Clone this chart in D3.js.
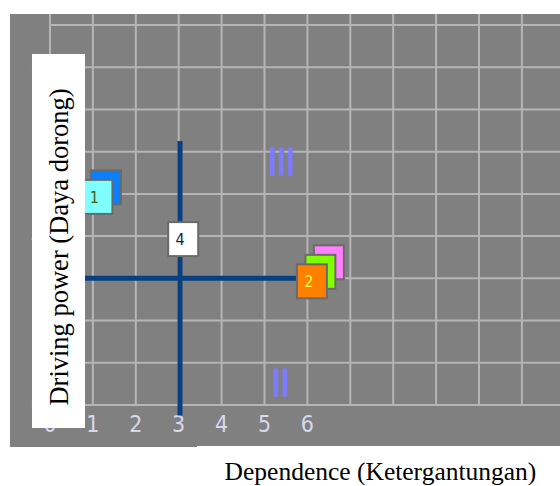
<!DOCTYPE html>
<html><head><meta charset="utf-8">
<script src="https://cdn.jsdelivr.net/npm/d3@7"></script>
<style>body{margin:0;background:#fff}svg{display:block}</style>
</head><body>
<svg id="chart" width="560" height="486"></svg>
<script>
// ---- data ----
const xTicks = [0, 1, 2, 3, 4, 5, 6];
const yTicks = [0, 1, 2, 3, 4, 5, 6, 7, 8];
const xGrid = [0, 1, 2, 3, 4, 5, 6, 7, 8, 9, 10, 11, 12];
const yGrid = [0, 1, 2, 3, 4, 5, 6, 7, 8, 9];
// elements (boxes): dependence, driving power, label, colour, stack depth
const pointX = [1, 1, 6, 6, 6, 3];
const pointY = [5, 5, 3, 3, 3, 4];
const pointLabel = ["", "1", "", "", "2", "4"];
const pointColor = ["#0a80ff", "#80ffff", "#ff80ff", "#80ff00", "#ff8000", "#ffffff"];
const pointTextColor = ["#000", "#4a5a10", "#000", "#000", "#ffff40", "#1a1a40"];
const pointDepth = [1, 0, 2, 1, 0, 0];
// quadrant separators
const hLineY = 3, hLineX = [0, 6];
const vLineX = 3, vLineY = [-0.25, 6.25];
// quadrant labels
const quadLabel = ["III", "II"];
const quadX = [5.38, 5.36];
const quadY = [5.45, 0.21];
const xTitle = "Dependence (Ketergantungan)";
const yTitle = "Driving power (Daya dorong)";

// ---- drawing ----
const svg = d3.select("#chart");
const x = d3.scaleLinear().domain([0, 11]).range([50, 521.9]);
const y = d3.scaleLinear().domain([0, 9]).range([405, 25]);

svg.append("rect").attr("x", 10).attr("y", 14).attr("width", 550).attr("height", 433).attr("fill", "#808080");
svg.append("rect").attr("x", 197).attr("y", 446).attr("width", 363).attr("height", 2).attr("fill", "#fff");

svg.append("clipPath").attr("id", "plotclip")
  .append("rect").attr("x", 10).attr("y", 14).attr("width", 550).attr("height", 432);
const g = svg.append("g").attr("clip-path", "url(#plotclip)");

// grid
g.selectAll(".vg").data(xGrid).join("line")
  .attr("x1", d => x(d)).attr("x2", d => x(d))
  .attr("y1", 14).attr("y2", y(0))
  .attr("stroke", "#b5b5b5").attr("stroke-width", 2);
g.selectAll(".hg").data(yGrid).join("line")
  .attr("x1", x(0)).attr("x2", 560)
  .attr("y1", d => y(d)).attr("y2", d => y(d))
  .attr("stroke", "#b5b5b5").attr("stroke-width", 2);

// tick labels
const tickFont = "'Liberation Sans Narrow', 'DejaVu Sans Condensed', 'Roboto', sans-serif";
g.selectAll(".xt").data(xTicks).join("text")
  .attr("x", d => x(d)).attr("y", 432)
  .attr("text-anchor", "middle")
  .attr("font-family", tickFont).attr("font-size", 23).attr("font-stretch", "condensed")
  .attr("fill", "#d6d8ec").text(d => d);
g.selectAll(".yt").data(yTicks).join("text")
  .attr("x", 44).attr("y", d => y(d) + 8)
  .attr("text-anchor", "end")
  .attr("font-family", tickFont).attr("font-size", 23).attr("font-stretch", "condensed")
  .attr("fill", "#c8d4ec").text(d => d);

// quadrant separator lines
g.append("line")
  .attr("x1", x(hLineX[0])).attr("x2", x(hLineX[1]))
  .attr("y1", y(hLineY)).attr("y2", y(hLineY))
  .attr("stroke", "#073f80").attr("stroke-width", 5);
g.append("line")
  .attr("x1", x(vLineX) + 1.3).attr("x2", x(vLineX) + 1.3)
  .attr("y1", y(vLineY[1])).attr("y2", y(vLineY[0]))
  .attr("stroke", "#073f80").attr("stroke-width", 5);

// quadrant labels
g.selectAll(".ql").data(quadLabel).join("text")
  .attr("x", (d, i) => x(quadX[i])).attr("y", (d, i) => y(quadY[i]))
  .attr("text-anchor", "middle")
  .attr("font-family", "'Liberation Sans', Arial, sans-serif").attr("font-size", 38)
  .attr("letter-spacing", -1.5)
  .attr("fill", "#7c7cff").attr("stroke", "#7c7cff").attr("stroke-width", 0.9)
  .text(d => d);

// boxes (draw deepest first)
const idx = d3.range(pointX.length).sort((a, b) => pointDepth[b] - pointDepth[a]);
const bw = 30, bh = 34, dx = 8.5, dy = -9.5;
const boxes = g.selectAll(".box").data(idx).join("g")
  .attr("transform", i => `translate(${x(pointX[i]) + 4.5 + pointDepth[i] * dx},${y(pointY[i]) + 3 + pointDepth[i] * dy})`);
boxes.append("rect")
  .attr("x", -bw / 2).attr("y", -bh / 2).attr("width", bw).attr("height", bh)
  .attr("fill", i => pointColor[i]).attr("stroke", "#6a6a6a").attr("stroke-width", 2);
boxes.append("text")
  .attr("x", -3).attr("y", 6)
  .attr("text-anchor", "middle")
  .attr("font-family", tickFont).attr("font-size", 16).attr("font-stretch", "condensed")
  .attr("fill", i => pointTextColor[i]).text(i => pointLabel[i]);

// white label box over y axis
svg.append("rect").attr("x", 32).attr("y", 54).attr("width", 53).attr("height", 374).attr("fill", "#fff");

// axis titles
svg.append("text")
  .attr("transform", "translate(68,247) rotate(-90)")
  .attr("text-anchor", "middle")
  .attr("font-family", "'Liberation Serif', 'Times New Roman', serif").attr("font-size", 26.5)
  .attr("fill", "#000").text(yTitle);
svg.append("text")
  .attr("x", 380.5).attr("y", 480)
  .attr("text-anchor", "middle")
  .attr("font-family", "'Liberation Serif', 'Times New Roman', serif").attr("font-size", 25.5)
  .attr("fill", "#000").text(xTitle);
</script>
</body></html>
